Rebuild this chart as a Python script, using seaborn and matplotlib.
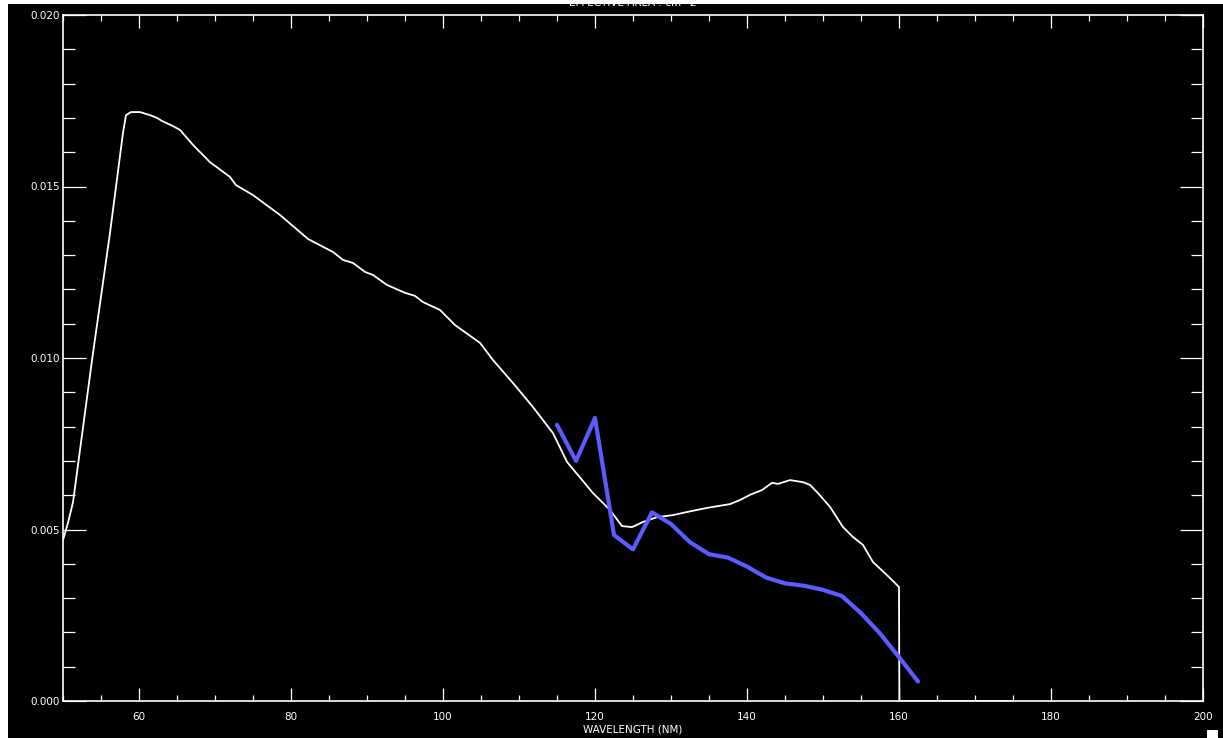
import numpy as np
import pandas as pd
import matplotlib
matplotlib.use("Agg")
import matplotlib.pyplot as plt
from matplotlib.patches import Rectangle
from matplotlib.ticker import MultipleLocator, FormatStrFormatter
import seaborn as sns

# Effective area curve (white)
wave_white = [50.00, 50.66, 51.32, 53.82, 56.18, 57.89, 58.29, 58.95, 60.13, 61.45, 62.37,
              63.03, 64.47, 65.39, 67.11, 69.34, 71.97, 72.76, 75.00, 78.55, 82.24,
              85.53, 86.84, 88.16, 89.74, 90.79, 92.63, 95.00, 96.32, 97.37, 99.61,
              101.58, 104.87, 106.58, 109.21, 111.84, 114.47, 116.32, 119.74, 121.97, 123.55,
              124.87, 126.32, 128.16, 130.26, 132.11, 134.74, 137.76, 139.08, 140.39, 141.97,
              143.29, 144.08, 145.66, 147.37, 148.29, 149.34, 150.92, 152.63, 153.95, 155.26,
              156.58, 158.42, 159.47, 160.00, 160.05, 175.00]
area_white = [0.00469, 0.00520, 0.00580, 0.00994, 0.01364, 0.01656, 0.01708, 0.01717, 0.01717, 0.01708, 0.01700,
              0.01691, 0.01676, 0.01665, 0.01621, 0.01571, 0.01528, 0.01504, 0.01475, 0.01417, 0.01347,
              0.01309, 0.01286, 0.01277, 0.01251, 0.01242, 0.01213, 0.01190, 0.01181, 0.01163, 0.01140,
              0.01096, 0.01044, 0.00994, 0.00927, 0.00857, 0.00781, 0.00697, 0.00606, 0.00557, 0.00510,
              0.00507, 0.00522, 0.00536, 0.00542, 0.00551, 0.00563, 0.00574, 0.00586, 0.00601, 0.00615,
              0.00636, 0.00633, 0.00644, 0.00638, 0.00630, 0.00606, 0.00566, 0.00507, 0.00478, 0.00455,
              0.00405, 0.00367, 0.00344, 0.00332, 0.00000, 0.00000]

# Measured effective area (blue)
wave_blue = [115.0, 117.5, 120.0, 122.5, 125.0, 127.5, 130.0, 132.5, 135.0, 137.5,
             140.0, 142.5, 145.0, 147.5, 150.0, 152.5, 155.0, 157.5, 160.0, 162.5]
area_blue = [0.00805, 0.00700, 0.00825, 0.00484, 0.00442, 0.00550, 0.00516, 0.00463, 0.00428, 0.00418,
             0.00392, 0.00360, 0.00343, 0.00336, 0.00324, 0.00306, 0.00256, 0.00197, 0.00128, 0.00057]

x_ticks = [60, 80, 100, 120, 140, 160, 180, 200]
y_ticks = [0.000, 0.005, 0.010, 0.015, 0.020]

sns.set_style("dark", {"axes.facecolor": "black", "figure.facecolor": "black"})
plt.rcParams["font.family"] = ["DejaVu Sans"]

W, H = 1223, 738
fig = plt.figure(figsize=(W / 100, H / 100), dpi=100, facecolor="black")
ax = fig.add_axes([63 / W, (H - 701) / H, 1140 / W, 686 / H])
ax.set_facecolor("black")

df_w = pd.DataFrame({"wave": wave_white, "area": area_white})
df_b = pd.DataFrame({"wave": wave_blue, "area": area_blue})
sns.lineplot(data=df_w, x="wave", y="area", sort=False, estimator=None,
             color="white", linewidth=1.3, ax=ax)
sns.lineplot(data=df_b, x="wave", y="area", sort=False, estimator=None,
             color="#5b5bff", linewidth=3.0, ax=ax)

ax.set_xlim(50, 200)
ax.set_ylim(0, 0.020)
ax.set_xticks(x_ticks)
ax.set_yticks(y_ticks)
ax.xaxis.set_minor_locator(MultipleLocator(5))
ax.yaxis.set_minor_locator(MultipleLocator(0.001))
ax.yaxis.set_major_formatter(FormatStrFormatter("%.3f"))
ax.grid(False)

for s in ax.spines.values():
    s.set_color("white")
    s.set_linewidth(1.2)

ax.tick_params(axis="x", which="major", direction="in", length=9.5, width=0.9,
               color="white", labelcolor="white", labelsize=7.5, pad=8,
               top=True, bottom=True)
ax.tick_params(axis="x", which="minor", direction="in", length=4.5, width=0.9,
               color="white", top=True, bottom=True)
ax.tick_params(axis="y", which="major", direction="in", length=16.5, width=0.9,
               color="white", labelcolor="white", labelsize=7.5, pad=2,
               left=True, right=True)
ax.tick_params(axis="y", which="minor", direction="in", length=8.5, width=0.9,
               color="white", left=True, right=True)

ax.set_xlabel("WAVELENGTH (NM)", color="white", fontsize=7.5, labelpad=2)
ax.set_ylabel("")

fig.text(633 / W, 1 - 3 / H, "EFFECTIVE AREA : cm^2", color="white",
         fontsize=7.5, ha="center", va="center")

# white paper margins on the top and left edges, and the small corner square
fig.patches.append(Rectangle((0, 0), 8 / W, 1, transform=fig.transFigure,
                             facecolor="white", edgecolor="none", zorder=20))
fig.patches.append(Rectangle((0, 1 - 4 / H), 1, 4 / H, transform=fig.transFigure,
                             facecolor="white", edgecolor="none", zorder=20))
fig.patches.append(Rectangle((1207 / W, 0), 11 / W, 8 / H, transform=fig.transFigure,
                             facecolor="white", edgecolor="none", zorder=20))

fig.savefig("out.png", dpi=100, facecolor="black")
